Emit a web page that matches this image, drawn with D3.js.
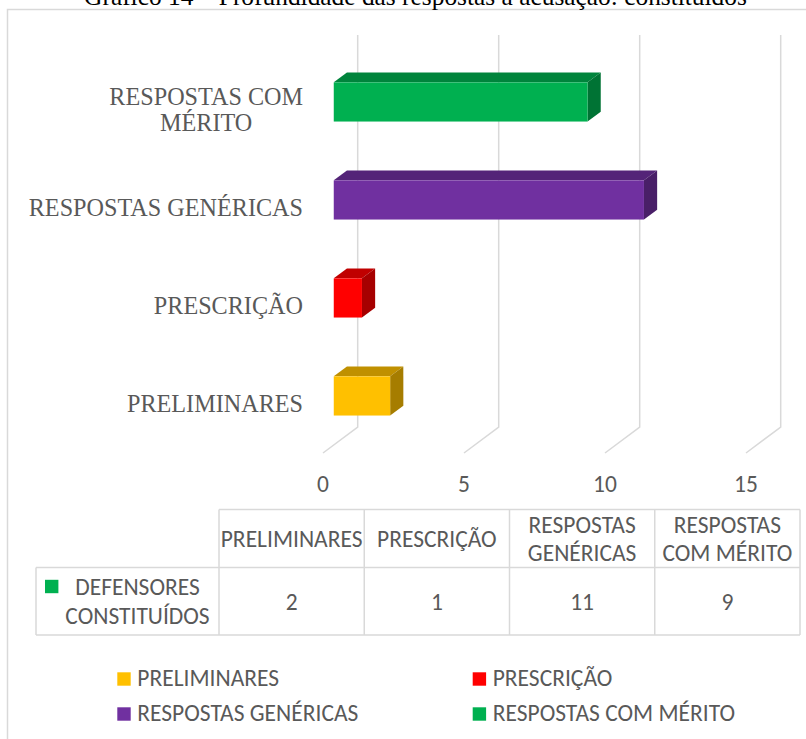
<!DOCTYPE html>
<html>
<head>
<meta charset="utf-8">
<script src="https://cdn.jsdelivr.net/npm/d3@7"></script>
<style>
  body { margin: 0; background: #fff; }
  svg { display: block; }
</style>
</head>
<body>
<svg id="chart" width="806" height="739"></svg>
<script>
const title = "Gráfico 14 – Profundidade das respostas à acusação: constituídos";
const categories = ["PRELIMINARES", "PRESCRIÇÃO", "RESPOSTAS GENÉRICAS", "RESPOSTAS COM MÉRITO"];
const values = [2, 1, 11, 9];
const colors = ["#FFC000", "#FF0000", "#7030A0", "#00B050"];
const seriesName = "DEFENSORES CONSTITUÍDOS";
const seriesColor = "#00B050";
const xTicks = [0, 5, 10, 15];

const W = 806, H = 739;
const sans = "Carlito, Lato, 'Open Sans', sans-serif";
const serif = "'Liberation Serif', 'Times New Roman', serif";
const grey = "#595959";
const lineCol = "#d9d9d9";

// front plane of the plot + offset of the back wall (fake 3d)
const plot = { left: 323, right: 746, top: 61, bottom: 453 };
const depth = { dx: 34.7, dy: -26 };
const barDepth = [0.31, 0.69];

const svg = d3.select("#chart");

const x = d3.scaleLinear().domain([0, 15]).range([plot.left, plot.right]);
const y = d3.scaleBand()
  .domain(categories.slice().reverse())
  .range([plot.top, plot.bottom])
  .paddingInner(0.6)
  .paddingOuter(0.3);

// measure helper for wrapping
function textWidth(str, font, size) {
  const t = svg.append("text").attr("font-family", font).attr("font-size", size).text(str);
  const w = t.node().getComputedTextLength();
  t.remove();
  return w;
}
function wrap(str, maxW, font, size) {
  const words = str.split(" ");
  const lines = [];
  let cur = words[0];
  for (let i = 1; i < words.length; i++) {
    const test = cur + " " + words[i];
    if (textWidth(test, font, size) > maxW) { lines.push(cur); cur = words[i]; }
    else cur = test;
  }
  lines.push(cur);
  return lines;
}

// outer frame
svg.append("rect")
  .attr("x", 7.5).attr("y", 9.5)
  .attr("width", W).attr("height", H)
  .attr("fill", "none").attr("stroke", lineCol).attr("stroke-width", 1.5);

// title (cut at the top like in the source image)
svg.append("text")
  .attr("x", 415.5).attr("y", 4.5)
  .attr("text-anchor", "middle")
  .attr("font-family", serif).attr("font-size", 25.4)
  .attr("fill", "#000")
  .text(title);

// gridlines: back wall + floor diagonal
svg.append("g").selectAll("path")
  .data(xTicks)
  .join("path")
  .attr("d", t => d3.line()([
    [x(t) + depth.dx, plot.top + depth.dy],
    [x(t) + depth.dx, plot.bottom + depth.dy],
    [x(t), plot.bottom]
  ]))
  .attr("fill", "none")
  .attr("stroke", lineCol)
  .attr("stroke-width", 1.5);

const cellSize = 23.5;

// tick labels
svg.append("g").selectAll("text")
  .data(xTicks)
  .join("text")
  .attr("x", t => x(t))
  .attr("y", 484)
  .attr("dy", "0.36em")
  .attr("text-anchor", "middle")
  .attr("font-family", sans).attr("font-size", cellSize)
  .attr("fill", grey)
  .text(t => t);

// 3d bars
const bw = y.bandwidth();
const f1 = barDepth[0], f2 = barDepth[1];
const ddx = (f2 - f1) * depth.dx, ddy = (f2 - f1) * depth.dy;

const bar = svg.append("g").selectAll("g")
  .data(categories.map((c, i) => ({ cat: c, v: values[i], col: colors[i] })))
  .join("g");

bar.each(function (d) {
  const g = d3.select(this);
  const x0 = x(0) + f1 * depth.dx, x1 = x(d.v) + f1 * depth.dx;
  const y0 = y(d.cat) + f1 * depth.dy, y1 = y0 + bw;
  g.append("path")
    .attr("d", d3.line()([[x0, y0], [x1, y0], [x1 + ddx, y0 + ddy], [x0 + ddx, y0 + ddy]]) + "Z")
    .attr("fill", d3.rgb(d.col).darker(0.8));
  g.append("path")
    .attr("d", d3.line()([[x1, y0], [x1 + ddx, y0 + ddy], [x1 + ddx, y1 + ddy], [x1, y1]]) + "Z")
    .attr("fill", d3.rgb(d.col).darker(1.2));
  g.append("rect")
    .attr("x", x0).attr("y", y0)
    .attr("width", x1 - x0).attr("height", bw)
    .attr("fill", d.col);
});

// category labels (serif), block right-aligned, lines centred
const labelSize = 24.2, labelLH = 26, labelRight = 303;
categories.forEach(c => {
  const lines = wrap(c, 282, serif, labelSize);
  const maxW = d3.max(lines, l => textWidth(l, serif, labelSize));
  const cy = y(c) + bw / 2;
  svg.append("text")
    .attr("text-anchor", "middle")
    .attr("font-family", serif).attr("font-size", labelSize)
    .attr("fill", grey)
    .selectAll("tspan")
    .data(lines)
    .join("tspan")
    .attr("x", labelRight - maxW / 2)
    .attr("y", (l, i) => cy + (i - (lines.length - 1) / 2) * labelLH)
    .attr("dy", "0.33em")
    .text(l => l);
});

// data table
const tbl = { left: 36, colStart: 219, right: 800, top: 509.5, mid: 567.5, bottom: 635 };
const col = d3.scaleBand().domain(categories).range([tbl.colStart, tbl.right]);
const tg = svg.append("g")
  .attr("stroke", lineCol).attr("stroke-width", 1.5).attr("fill", "none");
tg.append("path").attr("d", `M${tbl.colStart},${tbl.top}H${tbl.right}`);
tg.append("path").attr("d", `M${tbl.left},${tbl.mid}H${tbl.right}`);
tg.append("path").attr("d", `M${tbl.left},${tbl.bottom}H${tbl.right}`);
tg.append("path").attr("d", `M${tbl.left},${tbl.mid}V${tbl.bottom}`);
tg.selectAll("path.v")
  .data(categories.map(c => col(c)).concat([tbl.right]))
  .join("path")
  .attr("class", "v")
  .attr("d", xv => `M${xv},${tbl.top}V${tbl.bottom}`);

const cellLH = 28;
categories.forEach(c => {
  const lines = wrap(c, col.bandwidth(), sans, cellSize);
  const cy = (tbl.top + tbl.mid) / 2;
  svg.append("text")
    .attr("text-anchor", "middle")
    .attr("font-family", sans).attr("font-size", cellSize)
    .attr("fill", grey)
    .selectAll("tspan")
    .data(lines)
    .join("tspan")
    .attr("x", col(c) + col.bandwidth() / 2)
    .attr("y", (l, i) => cy + (i - (lines.length - 1) / 2) * cellLH)
    .attr("dy", "0.36em")
    .text(l => l);
});

const rowCy = (tbl.mid + tbl.bottom) / 2;
svg.append("g").selectAll("text")
  .data(values)
  .join("text")
  .attr("x", (v, i) => col(categories[i]) + col.bandwidth() / 2)
  .attr("y", rowCy)
  .attr("dy", "0.36em")
  .attr("text-anchor", "middle")
  .attr("font-family", sans).attr("font-size", cellSize)
  .attr("fill", grey)
  .text(v => v);

// series name with key
const seriesLines = wrap(seriesName, 155, sans, cellSize);
const seriesLH = 29.5;
const firstY = rowCy - (seriesLines.length - 1) / 2 * seriesLH;
svg.append("rect")
  .attr("x", 45).attr("y", firstY - 6.7)
  .attr("width", 13.4).attr("height", 13.4)
  .attr("fill", seriesColor);
svg.append("text")
  .attr("text-anchor", "middle")
  .attr("font-family", sans).attr("font-size", cellSize)
  .attr("fill", grey)
  .selectAll("tspan")
  .data(seriesLines)
  .join("tspan")
  .attr("x", 137.5)
  .attr("y", (l, i) => firstY + i * seriesLH)
  .attr("dy", "0.36em")
  .text(l => l);

// legend, two columns
const legX = [117.3, 472.7], legY = [679, 714];
const leg = svg.append("g").selectAll("g")
  .data(categories)
  .join("g")
  .attr("transform", (c, i) => `translate(${legX[i % 2]},${legY[Math.floor(i / 2)]})`);
leg.append("rect")
  .attr("x", 0).attr("y", -6.7)
  .attr("width", 13.4).attr("height", 13.4)
  .attr("fill", (c, i) => colors[i]);
leg.append("text")
  .attr("x", 20).attr("y", -1.3)
  .attr("dy", "0.36em")
  .attr("font-family", sans).attr("font-size", cellSize)
  .attr("fill", grey)
  .text(c => c);
</script>
</body>
</html>
